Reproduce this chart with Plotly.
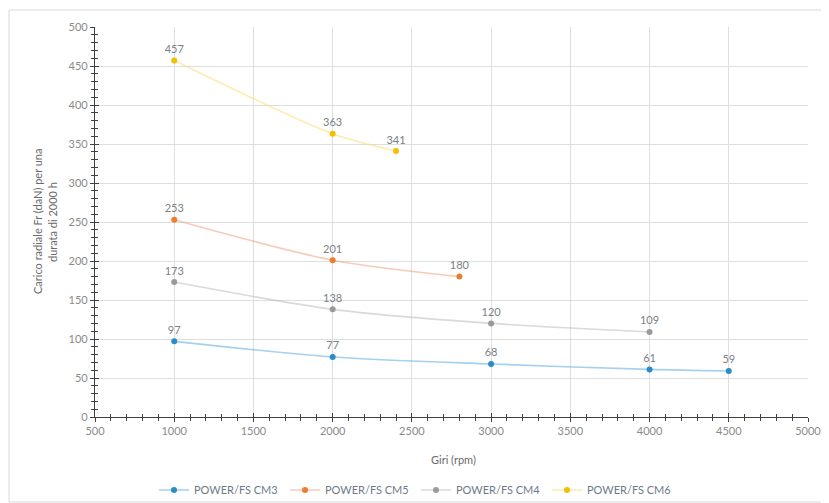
import plotly.graph_objects as go

rpm_cm3 = [1000, 2000, 3000, 4000, 4500]
load_cm3 = [97, 77, 68, 61, 59]
rpm_cm5 = [1000, 2000, 2800]
load_cm5 = [253, 201, 180]
rpm_cm4 = [1000, 2000, 3000, 4000]
load_cm4 = [173, 138, 120, 109]
rpm_cm6 = [1000, 2000, 2400]
load_cm6 = [457, 363, 341]

series = [
    ("POWER/FS CM3", rpm_cm3, load_cm3, "#2a8cc8", "rgba(91,170,225,0.55)"),
    ("POWER/FS CM5", rpm_cm5, load_cm5, "#ed7d31", "rgba(240,140,100,0.45)"),
    ("POWER/FS CM4", rpm_cm4, load_cm4, "#9a9a9a", "rgba(180,180,190,0.5)"),
    ("POWER/FS CM6", rpm_cm6, load_cm6, "#f2c000", "rgba(250,225,120,0.6)"),
]

FONT = "Lato, Liberation Sans, sans-serif"
fig = go.Figure()
for name, x, y, mc, lc in series:
    fig.add_trace(go.Scatter(
        x=x, y=y, name=name, mode="lines+markers+text",
        line=dict(color=lc, width=1.6, shape="spline", smoothing=0.8),
        marker=dict(color=mc, size=6),
        text=[str(v) for v in y], textposition="top center",
        textfont=dict(size=11, color="#7a7f88", family=FONT),
        cliponaxis=False,
    ))

# overlay axes to produce crossing tick marks
fig.add_trace(go.Scatter(x=[500], y=[0], xaxis="x2", yaxis="y2", mode="markers",
                         marker=dict(opacity=0), showlegend=False, hoverinfo="skip"))

def px_x(sx):
    return (sx - 95) / 713

def px_y(sy):
    return (417 - sy) / 390

axis_common = dict(showline=True, linecolor="#404040", linewidth=1.2,
                   tickcolor="#404040", zeroline=False, automargin=False)
fig.update_layout(
    width=829, height=503,
    margin=dict(l=87, r=29, t=19, b=94, autoexpand=False),
    paper_bgcolor="white", plot_bgcolor="white",
    font=dict(family=FONT, size=11, color="#6a6a6a"),
    showlegend=True,
    legend=dict(orientation="h", x=px_x(154), xanchor="left", y=px_y(490), yanchor="middle",
                font=dict(size=11, color="#6f7a88"), entrywidth=86, entrywidthmode="pixels",
                tracegroupgap=0, bgcolor="rgba(0,0,0,0)"),
    xaxis=dict(range=[500, 5000], dtick=500, tick0=500, ticks="outside", ticklen=4,
               showgrid=True, gridcolor="#dedede", gridwidth=1,
               minor=dict(dtick=100, ticks="outside", ticklen=3, tickcolor="#404040", showgrid=False),
               tickfont=dict(size=11, color="#8a8a8a"), **axis_common),
    yaxis=dict(range=[0, 500], dtick=50, ticks="outside", ticklen=4,
               showgrid=True, gridcolor="#dedede", gridwidth=1,
               minor=dict(dtick=10, ticks="outside", ticklen=3, tickcolor="#404040", showgrid=False),
               tickfont=dict(size=11, color="#8a8a8a"), **axis_common),
    xaxis2=dict(range=[500, 5000], overlaying="x", anchor="y2", side="bottom",
                dtick=500, tick0=500, ticks="inside", ticklen=4, showticklabels=False,
                showgrid=False, tickcolor="#404040", automargin=False,
                minor=dict(dtick=100, ticks="inside", ticklen=3, tickcolor="#404040"),
                showline=False, zeroline=False),
    yaxis2=dict(range=[0, 500], overlaying="y", anchor="x2", side="left",
                dtick=50, ticks="inside", ticklen=4, showticklabels=False,
                showgrid=False, tickcolor="#404040", automargin=False,
                minor=dict(dtick=10, ticks="inside", ticklen=3, tickcolor="#404040"),
                showline=False, zeroline=False),
    annotations=[
        dict(text="Giri (rpm)", xref="paper", yref="paper", x=px_x(453), y=px_y(459),
             showarrow=False, xanchor="center", yanchor="middle",
             font=dict(size=11, color="#6a6a6a")),
        dict(text="Carico radiale Fr (daN) per una", xref="paper", yref="paper",
             x=px_x(37), y=px_y(222), textangle=-90,
             showarrow=False, xanchor="center", yanchor="middle",
             font=dict(size=11, color="#6a6a6a")),
        dict(text="durata di 2000 h", xref="paper", yref="paper",
             x=px_x(52), y=px_y(222), textangle=-90,
             showarrow=False, xanchor="center", yanchor="middle",
             font=dict(size=11, color="#6a6a6a")),
    ],
    shapes=[dict(type="rect", xref="paper", yref="paper",
                 x0=px_x(9), x1=px_x(828), y0=px_y(502), y1=px_y(10),
                 line=dict(color="#d9d9d9", width=1), fillcolor="rgba(0,0,0,0)", layer="below")],
)

fig.write_html("out.html")
